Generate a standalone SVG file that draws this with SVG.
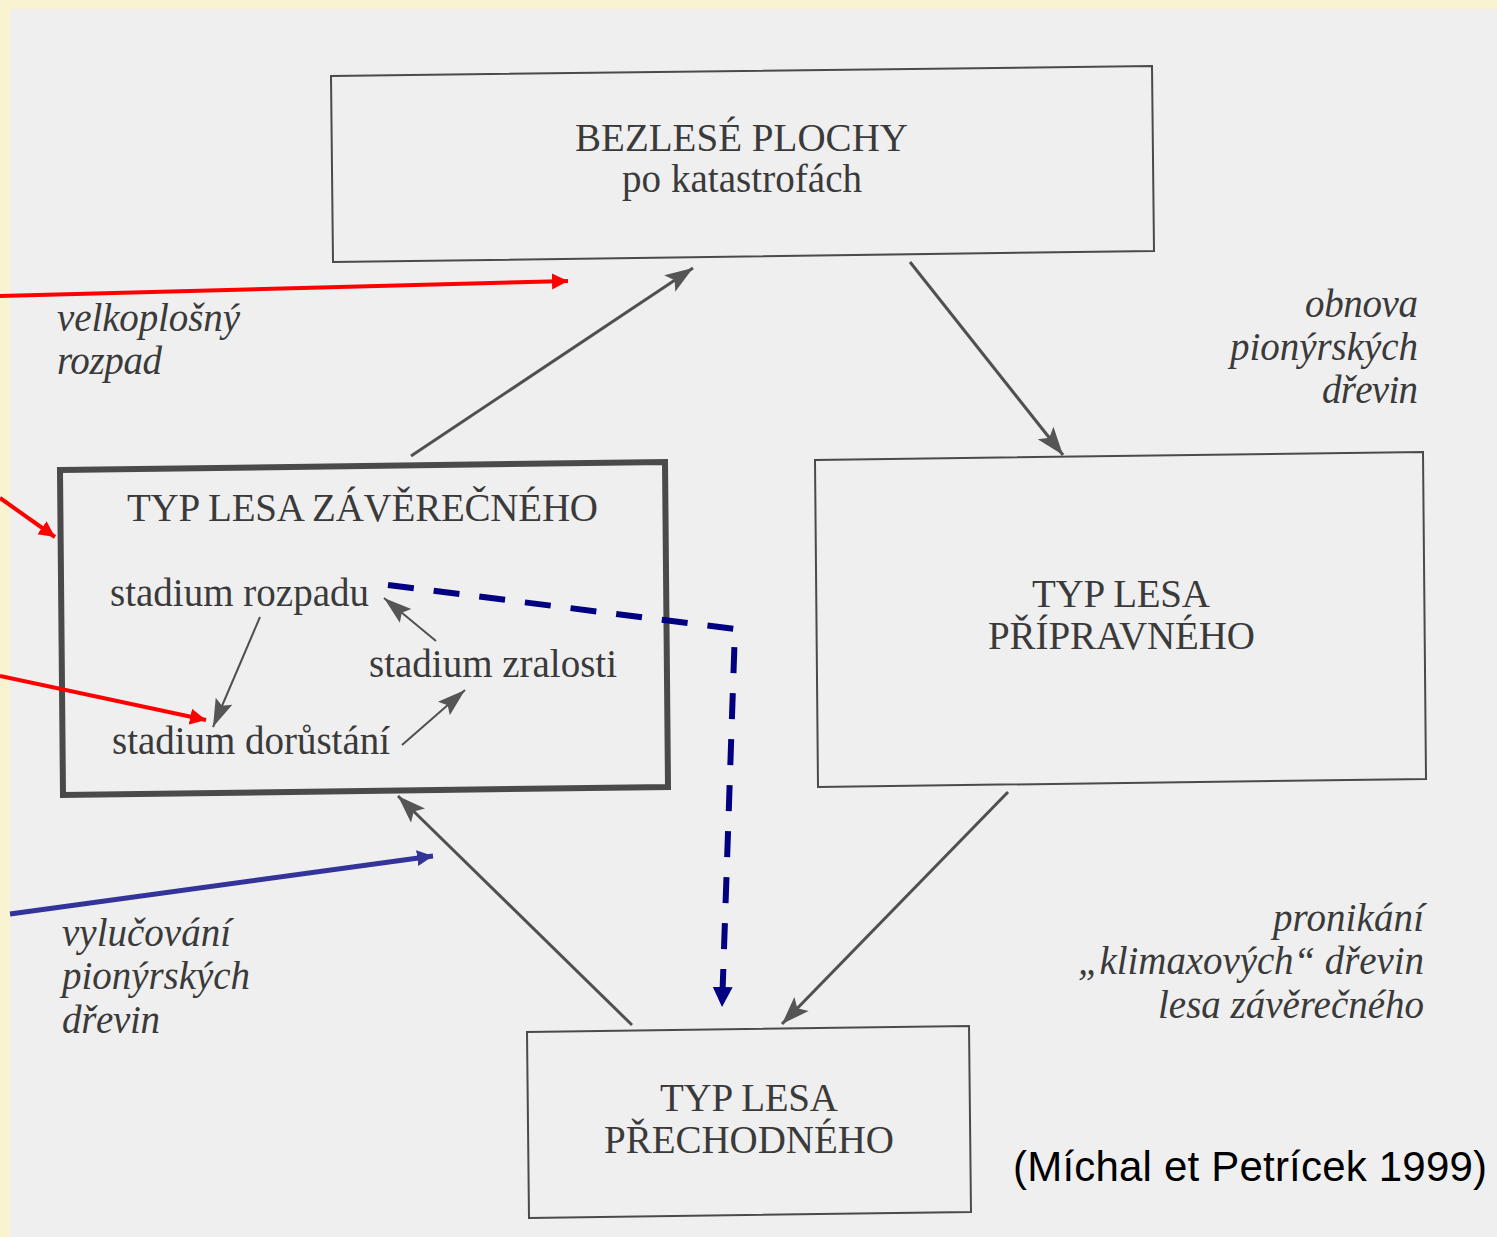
<svg xmlns="http://www.w3.org/2000/svg" width="1497" height="1237" viewBox="0 0 1497 1237">
<style>
.box{fill:none;stroke:#4a4a4a;stroke-width:2}
.thick{fill:none;stroke:#4a4a4a;stroke-width:6}
.t{font-family:"Liberation Serif","Times New Roman",serif;fill:#3a3a3a;font-size:39px}
.i{font-style:italic}
.g{stroke:#505050;stroke-width:3;fill:none}
.gs{stroke:#505050;stroke-width:2;fill:none}
</style>
<defs>
<marker id="ag" markerUnits="userSpaceOnUse" markerWidth="30" markerHeight="24" refX="28" refY="12" orient="auto"><path d="M0,2 L28,12 L0,22 L6,12 Z" fill="#555"/></marker>
<marker id="as" markerUnits="userSpaceOnUse" markerWidth="30" markerHeight="24" refX="28" refY="12" orient="auto"><path d="M0,3 L28,12 L0,21 L5,12 Z" fill="#555"/></marker>
<marker id="ar" markerUnits="userSpaceOnUse" markerWidth="18" markerHeight="18" refX="16" refY="9" orient="auto"><path d="M0,1 L16,9 L0,17 Z" fill="#ff0000"/></marker>
<marker id="ab" markerUnits="userSpaceOnUse" markerWidth="18" markerHeight="18" refX="16" refY="9" orient="auto"><path d="M0,1 L16,9 L0,17 Z" fill="#333399"/></marker>
<marker id="an" markerUnits="userSpaceOnUse" markerWidth="22" markerHeight="22" refX="20" refY="10" orient="auto"><path d="M0,0 L20,10 L0,20 Z" fill="#000080"/></marker>
</defs>
<rect x="0" y="0" width="1497" height="1237" fill="#faf3d2"/>
<rect x="10" y="9" width="1487" height="1228" fill="#efefef"/>

<g id="bezlese">
<polygon class="box" points="331,76 1152,66 1154,251 333,262"/>
<text class="t" x="575" y="151" textLength="333" lengthAdjust="spacing">BEZLESÉ PLOCHY</text>
<text class="t" x="622" y="192" textLength="240" lengthAdjust="spacing">po katastrofách</text>
</g>

<g id="zaverecny">
<polygon class="thick" points="60,470 665,462 668,787 63,795"/>
<text class="t" x="127" y="521" textLength="471" lengthAdjust="spacing">TYP LESA ZÁVĚREČNÉHO</text>
<text class="t" x="110" y="606" textLength="259" lengthAdjust="spacing">stadium rozpadu</text>
<text class="t" x="369" y="677" textLength="248" lengthAdjust="spacing">stadium zralosti</text>
<text class="t" x="112" y="754" textLength="278" lengthAdjust="spacing">stadium dorůstání</text>
</g>

<g id="pripravny">
<polygon class="box" points="815,460 1423,452 1426,779 818,787"/>
<text class="t" x="1032" y="607" textLength="178" lengthAdjust="spacing">TYP LESA</text>
<text class="t" x="988" y="649" textLength="267" lengthAdjust="spacing">PŘÍPRAVNÉHO</text>
</g>

<g id="prechodny">
<polygon class="box" points="527,1032 969,1026 971,1212 529,1218"/>
<text class="t" x="660" y="1111" textLength="178" lengthAdjust="spacing">TYP LESA</text>
<text class="t" x="604" y="1153" textLength="290" lengthAdjust="spacing">PŘECHODNÉHO</text>
</g>

<g id="labels">
<text class="t i" x="57" y="331" textLength="183" lengthAdjust="spacing">velkoplošný</text>
<text class="t i" x="57" y="374" textLength="105" lengthAdjust="spacing">rozpad</text>
<text class="t i" x="1305" y="317" textLength="113" lengthAdjust="spacing">obnova</text>
<text class="t i" x="1230" y="360" textLength="188" lengthAdjust="spacing">pionýrských</text>
<text class="t i" x="1322" y="403" textLength="96" lengthAdjust="spacing">dřevin</text>
<text class="t i" x="62" y="946" textLength="169" lengthAdjust="spacing">vylučování</text>
<text class="t i" x="62" y="989" textLength="188" lengthAdjust="spacing">pionýrských</text>
<text class="t i" x="62" y="1033" textLength="98" lengthAdjust="spacing">dřevin</text>
<text class="t i" x="1273" y="931" textLength="151" lengthAdjust="spacing">pronikání</text>
<text class="t i" x="1078" y="974" textLength="346" lengthAdjust="spacing">„klimaxových“ dřevin</text>
<text class="t i" x="1158" y="1018" textLength="266" lengthAdjust="spacing">lesa závěrečného</text>
<text x="1013" y="1181" textLength="474" lengthAdjust="spacing" font-family="Liberation Sans, Arial, sans-serif" font-size="42" fill="#000">(Míchal et Petrícek 1999)</text>
</g>

<g id="connectors">
<line class="g" x1="411" y1="456" x2="693" y2="268" marker-end="url(#ag)"/>
<line class="g" x1="910" y1="262" x2="1063" y2="455" marker-end="url(#ag)"/>
<line class="g" x1="1008" y1="792" x2="782" y2="1024" marker-end="url(#ag)"/>
<line class="g" x1="632" y1="1025" x2="398" y2="796" marker-end="url(#ag)"/>
<line class="gs" x1="260" y1="617" x2="213" y2="727" marker-end="url(#as)"/>
<line class="gs" x1="436" y1="641" x2="384" y2="598" marker-end="url(#as)"/>
<line class="gs" x1="402" y1="745" x2="465" y2="690" marker-end="url(#as)"/>
<line x1="0" y1="296" x2="568" y2="281" stroke="#ff0000" stroke-width="4" marker-end="url(#ar)"/>
<line x1="0" y1="498" x2="55" y2="537" stroke="#ff0000" stroke-width="4" marker-end="url(#ar)"/>
<line x1="0" y1="676" x2="206" y2="720" stroke="#ff0000" stroke-width="4" marker-end="url(#ar)"/>
<line x1="10" y1="914" x2="433" y2="856" stroke="#333399" stroke-width="5" marker-end="url(#ab)"/>
<polyline points="388,585 735,629 722,1007" fill="none" stroke="#000080" stroke-width="6" stroke-dasharray="26,20" marker-end="url(#an)"/>
</g>
</svg>
